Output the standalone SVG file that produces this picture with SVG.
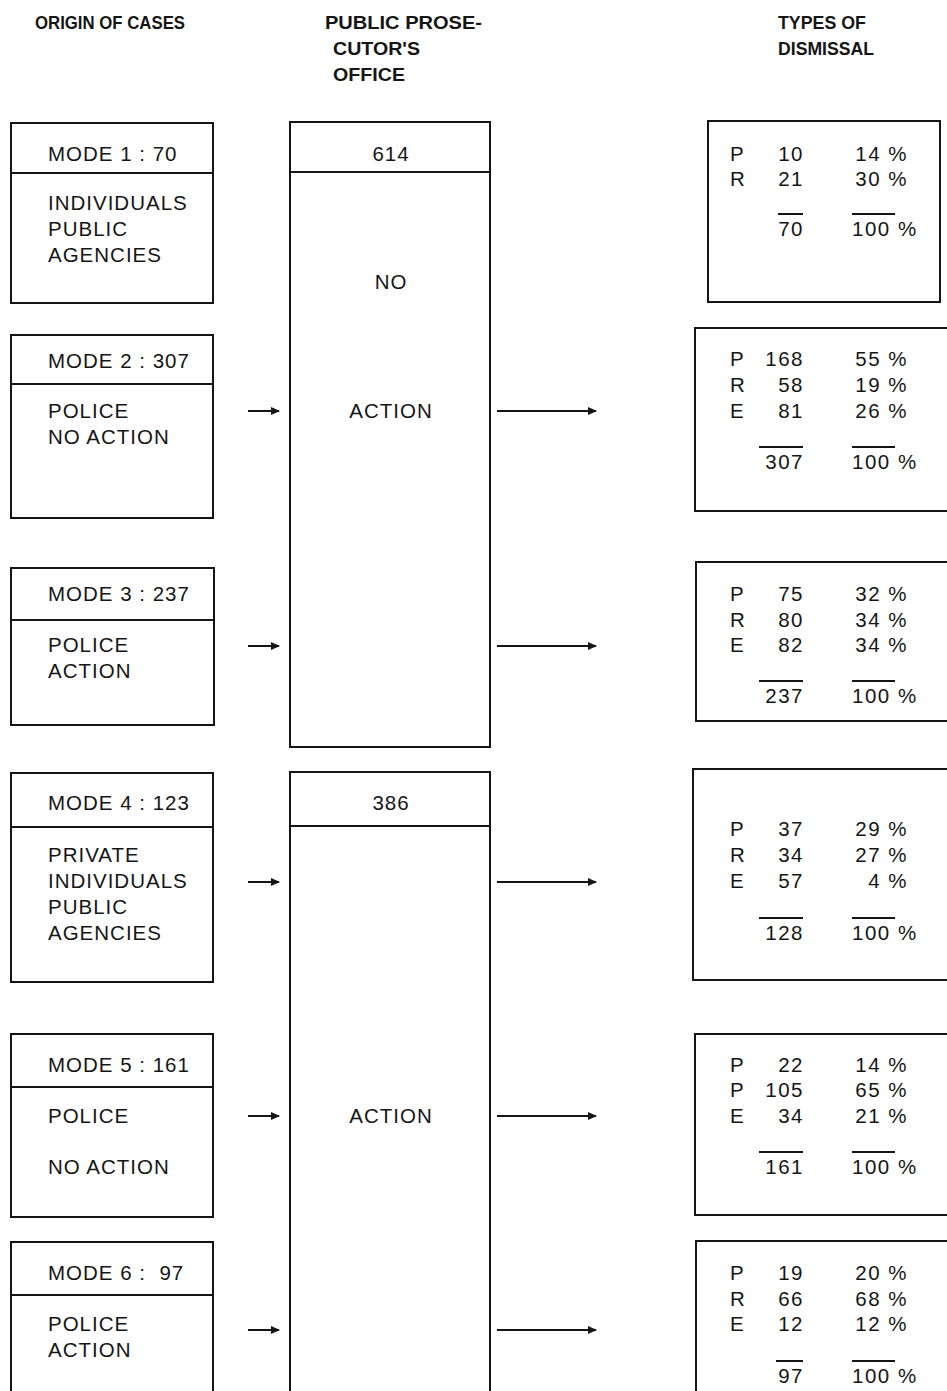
<svg xmlns="http://www.w3.org/2000/svg" width="947" height="1391" viewBox="0 0 947 1391">
<style>
.bx{fill:none;stroke:#151515;stroke-width:2}
.ln{stroke:#151515;stroke-width:2;fill:none}
text{font-family:"Liberation Sans",Arial,sans-serif;fill:#151515}
.hd{font-size:19px;font-weight:bold}
.t{font-size:20.5px;letter-spacing:1px}
.c{font-size:20.5px;letter-spacing:1px;text-anchor:middle}
.n{font-size:20.5px;letter-spacing:1.5px;text-anchor:end}
.p{font-size:20.5px;letter-spacing:1.5px;text-anchor:end}
.ps{font-size:20.5px;letter-spacing:1.5px}
.ar{stroke:#151515;stroke-width:2;fill:none;marker-end:url(#ah)}
</style>
<defs>
<marker id="ah" markerWidth="9" markerHeight="9" refX="8" refY="4.5" orient="auto" markerUnits="userSpaceOnUse">
<path d="M0,0.5 L9,4.5 L0,8.5 Z" fill="#151515"/>
</marker>
</defs>
<rect width="947" height="1391" fill="#fff"/>
<g id="headers">
<text class="hd" x="35" y="29" textLength="150" lengthAdjust="spacingAndGlyphs">ORIGIN OF CASES</text>
<text class="hd" x="325" y="29" textLength="157" lengthAdjust="spacingAndGlyphs">PUBLIC PROSE-</text>
<text class="hd" x="333" y="55" textLength="87" lengthAdjust="spacingAndGlyphs">CUTOR'S</text>
<text class="hd" x="333" y="81" textLength="72" lengthAdjust="spacingAndGlyphs">OFFICE</text>
<text class="hd" x="778" y="29" textLength="88" lengthAdjust="spacingAndGlyphs">TYPES OF</text>
<text class="hd" x="778" y="55" textLength="96" lengthAdjust="spacingAndGlyphs">DISMISSAL</text>
</g>
<g id="mode1">
<rect class="bx" x="11" y="123" width="202" height="180"/>
<line class="ln" x1="11" y1="173" x2="213" y2="173"/>
<text class="t" x="48" y="161">MODE 1 : 70</text>
<text class="t" x="48" y="210">INDIVIDUALS</text>
<text class="t" x="48" y="236">PUBLIC</text>
<text class="t" x="48" y="262">AGENCIES</text>
</g>
<g id="mode2">
<rect class="bx" x="11" y="335" width="202" height="183"/>
<line class="ln" x1="11" y1="384" x2="213" y2="384"/>
<text class="t" x="48" y="368">MODE 2 : 307</text>
<text class="t" x="48" y="418">POLICE</text>
<text class="t" x="48" y="444">NO ACTION</text>
</g>
<g id="mode3">
<rect class="bx" x="11" y="568" width="203" height="157"/>
<line class="ln" x1="11" y1="620" x2="214" y2="620"/>
<text class="t" x="48" y="601">MODE 3 : 237</text>
<text class="t" x="48" y="652">POLICE</text>
<text class="t" x="48" y="678">ACTION</text>
</g>
<g id="mode4">
<rect class="bx" x="11" y="773" width="202" height="209"/>
<line class="ln" x1="11" y1="827" x2="213" y2="827"/>
<text class="t" x="48" y="810">MODE 4 : 123</text>
<text class="t" x="48" y="862">PRIVATE</text>
<text class="t" x="48" y="888">INDIVIDUALS</text>
<text class="t" x="48" y="914">PUBLIC</text>
<text class="t" x="48" y="940">AGENCIES</text>
</g>
<g id="mode5">
<rect class="bx" x="11" y="1034" width="202" height="183"/>
<line class="ln" x1="11" y1="1087" x2="213" y2="1087"/>
<text class="t" x="48" y="1072">MODE 5 : 161</text>
<text class="t" x="48" y="1123">POLICE</text>
<text class="t" x="48" y="1174">NO ACTION</text>
</g>
<g id="mode6">
<path class="bx" d="M11,1395 V1242 H213 V1395"/>
<line class="ln" x1="11" y1="1295" x2="213" y2="1295"/>
<text class="t" x="48" y="1280" xml:space="preserve">MODE 6 :  97</text>
<text class="t" x="48" y="1331">POLICE</text>
<text class="t" x="48" y="1357">ACTION</text>
</g>
<g id="office-no-action">
<rect class="bx" x="290" y="122" width="200" height="625"/>
<line class="ln" x1="290" y1="172" x2="490" y2="172"/>
<text class="c" x="391" y="161">614</text>
<text class="c" x="391" y="289">NO</text>
<text class="c" x="391" y="418">ACTION</text>
</g>
<g id="office-action">
<path class="bx" d="M290,1395 V772 H490 V1395"/>
<line class="ln" x1="290" y1="826" x2="490" y2="826"/>
<text class="c" x="391" y="810">386</text>
<text class="c" x="391" y="1123">ACTION</text>
</g>
<g id="dismissal1">
<rect class="bx" x="708" y="121" width="232" height="181"/>
<text class="t" x="730" y="161">P</text>
<text class="t" x="730" y="186">R</text>
<text class="n" x="804" y="161">10</text>
<text class="n" x="804" y="186">21</text>
<text class="n" x="804" y="236">70</text>
<line class="ln" x1="778" y1="214" x2="803" y2="214"/>
<text class="p" x="908" y="161">14 %</text>
<text class="p" x="908" y="186">30 %</text>
<text class="ps" x="852" y="236">100 %</text>
<line class="ln" x1="852" y1="214" x2="895" y2="214"/>
</g>
<g id="dismissal2">
<path class="bx" d="M950,328 H695 V511 H950"/>
<text class="t" x="730" y="366">P</text>
<text class="t" x="730" y="392">R</text>
<text class="t" x="730" y="418">E</text>
<text class="n" x="804" y="366">168</text>
<text class="n" x="804" y="392">58</text>
<text class="n" x="804" y="418">81</text>
<text class="n" x="804" y="469">307</text>
<line class="ln" x1="759" y1="447" x2="803" y2="447"/>
<text class="p" x="908" y="366">55 %</text>
<text class="p" x="908" y="392">19 %</text>
<text class="p" x="908" y="418">26 %</text>
<text class="ps" x="852" y="469">100 %</text>
<line class="ln" x1="852" y1="447" x2="895" y2="447"/>
</g>
<g id="dismissal3">
<path class="bx" d="M950,562 H696 V721 H950"/>
<text class="t" x="730" y="601">P</text>
<text class="t" x="730" y="627">R</text>
<text class="t" x="730" y="652">E</text>
<text class="n" x="804" y="601">75</text>
<text class="n" x="804" y="627">80</text>
<text class="n" x="804" y="652">82</text>
<text class="n" x="804" y="703">237</text>
<line class="ln" x1="759" y1="681" x2="803" y2="681"/>
<text class="p" x="908" y="601">32 %</text>
<text class="p" x="908" y="627">34 %</text>
<text class="p" x="908" y="652">34 %</text>
<text class="ps" x="852" y="703">100 %</text>
<line class="ln" x1="852" y1="681" x2="895" y2="681"/>
</g>
<g id="dismissal4">
<path class="bx" d="M950,769 H693 V980 H950"/>
<text class="t" x="730" y="836">P</text>
<text class="t" x="730" y="862">R</text>
<text class="t" x="730" y="888">E</text>
<text class="n" x="804" y="836">37</text>
<text class="n" x="804" y="862">34</text>
<text class="n" x="804" y="888">57</text>
<text class="n" x="804" y="940">128</text>
<line class="ln" x1="759" y1="918" x2="803" y2="918"/>
<text class="p" x="908" y="836">29 %</text>
<text class="p" x="908" y="862">27 %</text>
<text class="p" x="908" y="888">4 %</text>
<text class="ps" x="852" y="940">100 %</text>
<line class="ln" x1="852" y1="918" x2="895" y2="918"/>
</g>
<g id="dismissal5">
<path class="bx" d="M950,1034 H695 V1215 H950"/>
<text class="t" x="730" y="1072">P</text>
<text class="t" x="730" y="1097">P</text>
<text class="t" x="730" y="1123">E</text>
<text class="n" x="804" y="1072">22</text>
<text class="n" x="804" y="1097">105</text>
<text class="n" x="804" y="1123">34</text>
<text class="n" x="804" y="1174">161</text>
<line class="ln" x1="759" y1="1152" x2="803" y2="1152"/>
<text class="p" x="908" y="1072">14 %</text>
<text class="p" x="908" y="1097">65 %</text>
<text class="p" x="908" y="1123">21 %</text>
<text class="ps" x="852" y="1174">100 %</text>
<line class="ln" x1="852" y1="1152" x2="895" y2="1152"/>
</g>
<g id="dismissal6">
<path class="bx" d="M950,1241 H696 V1395"/>
<text class="t" x="730" y="1280">P</text>
<text class="t" x="730" y="1306">R</text>
<text class="t" x="730" y="1331">E</text>
<text class="n" x="804" y="1280">19</text>
<text class="n" x="804" y="1306">66</text>
<text class="n" x="804" y="1331">12</text>
<text class="n" x="804" y="1383">97</text>
<line class="ln" x1="776" y1="1361" x2="803" y2="1361"/>
<text class="p" x="908" y="1280">20 %</text>
<text class="p" x="908" y="1306">68 %</text>
<text class="p" x="908" y="1331">12 %</text>
<text class="ps" x="852" y="1383">100 %</text>
<line class="ln" x1="852" y1="1361" x2="895" y2="1361"/>
</g>
<g id="connectors">
<line class="ar" x1="248" y1="411" x2="279" y2="411"/>
<line class="ar" x1="497" y1="411" x2="596" y2="411"/>
<line class="ar" x1="248" y1="646" x2="279" y2="646"/>
<line class="ar" x1="497" y1="646" x2="596" y2="646"/>
<line class="ar" x1="248" y1="882" x2="279" y2="882"/>
<line class="ar" x1="497" y1="882" x2="596" y2="882"/>
<line class="ar" x1="248" y1="1116" x2="279" y2="1116"/>
<line class="ar" x1="497" y1="1116" x2="596" y2="1116"/>
<line class="ar" x1="248" y1="1330" x2="279" y2="1330"/>
<line class="ar" x1="497" y1="1330" x2="596" y2="1330"/>
</g>
</svg>
